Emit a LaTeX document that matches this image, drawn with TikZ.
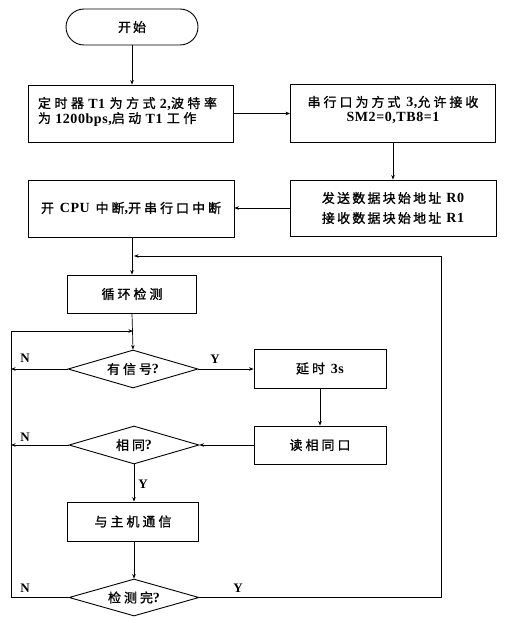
\documentclass[tikz,border=0pt]{standalone}
\usepackage{fontspec}
\setmainfont{Liberation Serif}
\newfontfamily\cjk[LetterSpace=23,FakeBold=1]{Noto Sans CJK SC}
\newfontfamily\cjkn[LetterSpace=17,FakeBold=1]{Noto Sans CJK SC}
\newfontfamily\cjkw[LetterSpace=27,FakeBold=1]{Noto Sans CJK SC}
\newfontfamily\latfont[LetterSpace=4]{Liberation Serif}
\newcommand\lat[1]{{\latfont\bfseries\fontsize{14}{15}\selectfont #1}}
\usetikzlibrary{arrows.meta,shapes.geometric,shapes.misc}
\tikzset{
  box/.style={draw, line width=0.9pt, inner sep=0pt, font=\cjk\fontsize{13}{15}\selectfont},
  txt/.style={inner sep=0pt, font=\cjk\fontsize{13}{15}\selectfont},
  dia/.style={draw, diamond, aspect=3.4, line width=0.9pt, inner sep=0pt, font=\cjk\fontsize{13}{15}\selectfont},
  conn/.style={line width=0.7pt, -{Stealth[length=4.5pt,width=3.5pt]}},
  lbl/.style={font=\latfont\bfseries\fontsize{13}{15}\selectfont, inner sep=0pt}
}
\begin{document}
\begin{tikzpicture}[x=1pt,y=-1pt]
\useasboundingbox (0,0) rectangle (508,623);
\node[box, rounded rectangle, minimum width=132pt, minimum height=36pt] (start) at (132,27) {开\hspace{2pt}始};
\node[box, minimum width=205pt, minimum height=57pt] (b1) at (130.5,113.5) {};
\node[txt, align=left, text width=186pt, font=\cjkw\fontsize{13}{15}\selectfont] (b1t) at (131,111.5)
  {定时器 \lat{T1} 为方式 \lat{2,}波特率\\为 \lat{1200bps,}启动 \lat{T1} 工作};
\node[box, minimum width=205pt, minimum height=58pt] (b2) at (393,113) {};
\node[txt, align=center] (b2t) at (393,110)
  {串行口为方式 \lat{3,}允许接收\\\lat{SM2=0,TB8=1}};
\node[box, minimum width=206pt, minimum height=56pt, align=center, font=\cjkn\fontsize{13}{20}\selectfont] (b3) at (393,208)
  {发送数据块始地址 \lat{R0}\\接收数据块始地址 \lat{R1}};
\node[box, minimum width=206pt, minimum height=57pt] (b4) at (131,208.5)
  {开 \lat{CPU} 中断\lat{,}开串行口中断};
\node[box, minimum width=129pt, minimum height=38pt] (b5) at (132,294) {循环检测};
\node[dia, minimum width=130pt, minimum height=38pt] (d1) at (133,369) {有信号\lat{?}};
\node[box, minimum width=132pt, minimum height=39pt] (b6) at (320,368.5) {延时 \lat{3s}};
\node[box, minimum width=132pt, minimum height=38pt] (b7) at (320,445) {读相同口};
\node[dia, minimum width=130pt, minimum height=38pt] (d2) at (134,445) {相同\lat{?}};
\node[box, minimum width=131pt, minimum height=39pt] (b8) at (133,521.5) {与主机通信};
\node[dia, minimum width=130pt, minimum height=37pt] (d3) at (134,597.5) {检测完\lat{?}};
\coordinate (jtop) at (134,256);
\coordinate (rt) at (441,256);
\coordinate (jl) at (133,331);
\coordinate (lt) at (11,331);
\draw[conn] (start.south) -- (start.south |- b1.north);
\draw[conn] (b1.east) -- (b2.west |- b1.east);
\draw[conn] (b2.south) -- (b3.north);
\draw[conn] (b3.west) -- (b4.east |- b3.west);
\draw[conn] (b4.south -| b5.north) -- (b5.north);
\draw[conn] (d3.east) -| (rt) -- (jtop);
\draw[conn] (b5.south) -- (d1.north);
\draw[conn] (d3.west) -| (lt) -- (jl);
\draw[conn] (d1.west) -- (d1.west -| lt);
\draw[conn] (d1.east) -- (b6.west |- d1.east);
\draw[conn] (b6.south) -- (b7.north);
\draw[conn] (b7.west) -- (d2.east |- b7.west);
\draw[conn] (d2.west) -- (d2.west -| lt);
\draw[conn] (d2.south) -- (d2.south |- b8.north);
\draw[conn] (b8.south) -- (b8.south -| d3.north) -- (d3.north);
\node[lbl] (n1) at (25,358) {N};
\node[lbl] (n2) at (25,437) {N};
\node[lbl] (n3) at (25,588) {N};
\node[lbl] (y1) at (215,359) {Y};
\node[lbl] (y2) at (143,484) {Y};
\node[lbl] (y3) at (238,588) {Y};
\end{tikzpicture}
\end{document}
